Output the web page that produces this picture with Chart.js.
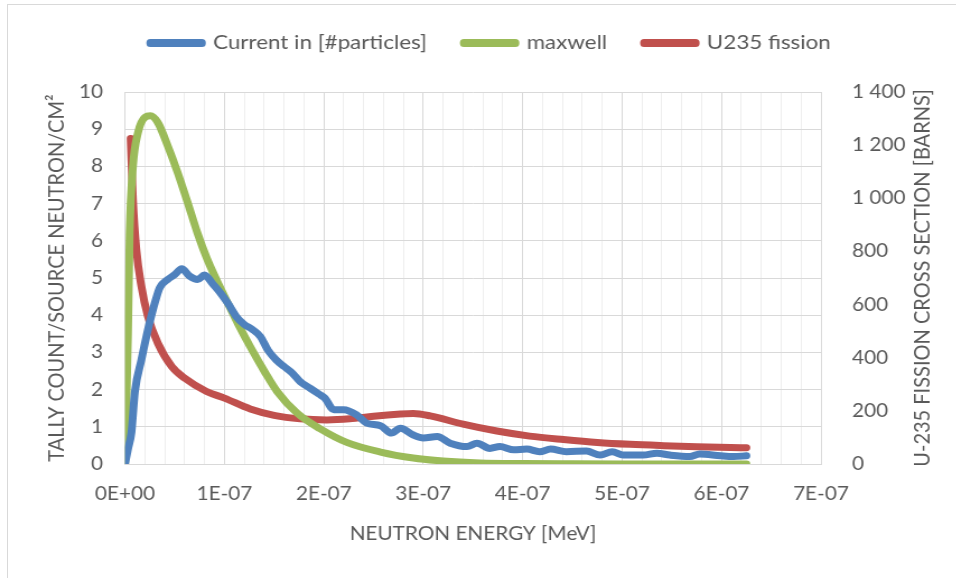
<!DOCTYPE html>
<html>
<head>
<meta charset="utf-8">
<script src="https://cdn.jsdelivr.net/npm/chart.js@4.4.1/dist/chart.umd.min.js"></script>
<style>
  html, body { margin: 0; padding: 0; background: #fff; overflow: hidden; }
  #frame { position: absolute; left: 7px; top: 4px; width: 980px; height: 600px; border: 1px solid #d9d9d9; }
  /* the reference is a bit stretched sideways, so draw narrower and stretch the same way */
  #wrap { position: absolute; left: 0; top: 0; width: 854px; height: 578px; transform: scaleX(1.12); transform-origin: 0 0; }
</style>
</head>
<body>
<div id="frame"></div>
<div id="wrap"><canvas id="chart" width="854" height="578"></canvas></div>
<script>
// energies in MeV
const currentEnergy = [0, 0.3e-8, 0.65e-8, 1.0e-8, 1.65e-8, 2.3e-8, 3.0e-8, 3.5e-8, 4.3e-8, 5.0e-8,
  5.7e-8, 6.5e-8, 7.3e-8, 8.0e-8, 8.8e-8, 9.6e-8, 10.4e-8, 11.2e-8, 12.0e-8, 12.8e-8,
  13.6e-8, 14.4e-8, 15.2e-8, 16.0e-8, 16.8e-8, 17.6e-8, 18.6e-8, 19.5e-8, 20.1e-8, 21.0e-8,
  22.0e-8, 23.3e-8, 24.3e-8, 25.7e-8, 26.8e-8, 27.7e-8, 29.0e-8, 30.0e-8, 31.4e-8, 32.7e-8,
  34.4e-8, 35.4e-8, 36.7e-8, 37.7e-8, 39.1e-8, 40.4e-8, 41.7e-8, 42.8e-8, 44.4e-8, 46.4e-8,
  47.8e-8, 49.0e-8, 50.1e-8, 52.1e-8, 53.5e-8, 54.8e-8, 56.8e-8, 57.8e-8, 59.9e-8, 61.2e-8, 62.5e-8];
const currentValues = [0, 0.4, 0.85, 1.95, 2.8, 3.6, 4.33, 4.74, 4.96, 5.09,
  5.25, 5.05, 4.96, 5.08, 4.85, 4.6, 4.3, 3.96, 3.75, 3.62,
  3.43, 3.05, 2.8, 2.62, 2.45, 2.22, 2.04, 1.88, 1.77, 1.46,
  1.46, 1.32, 1.10, 1.03, 0.83, 0.96, 0.78, 0.70, 0.74, 0.56,
  0.47, 0.56, 0.42, 0.47, 0.38, 0.40, 0.33, 0.40, 0.33, 0.35,
  0.24, 0.33, 0.24, 0.24, 0.29, 0.24, 0.20, 0.27, 0.22, 0.20, 0.22];

const maxwellEnergy = [0, 0.3e-8, 0.47e-8, 0.8e-8, 1.3e-8, 2.0e-8, 2.55e-8, 3.3e-8, 4.3e-8, 5.3e-8,
  6.3e-8, 7.3e-8, 8.2e-8, 9.2e-8, 10.2e-8, 11.4e-8, 12.6e-8, 14.0e-8, 15.3e-8, 17.3e-8,
  19.6e-8, 22.3e-8, 25.7e-8, 29.0e-8, 32.0e-8, 35.7e-8, 40.0e-8, 45.0e-8, 50.0e-8, 55.0e-8, 62.5e-8];
const maxwellValues = [0, 3.5, 6.2, 8.0, 8.9, 9.32, 9.36, 9.18, 8.55, 7.83,
  7.03, 6.2, 5.55, 4.95, 4.4, 3.75, 3.15, 2.5, 1.95, 1.37,
  0.95, 0.58, 0.32, 0.16, 0.08, 0.03, 0.012, 0.005, 0.002, 0.001, 0];

const fissionEnergy = [0.57e-8, 0.8e-8, 1.14e-8, 1.65e-8, 2.3e-8, 3.3e-8, 4.7e-8, 6.0e-8, 8.2e-8, 10.0e-8,
  12.6e-8, 15.0e-8, 17.6e-8, 20.3e-8, 22.6e-8, 25.0e-8, 27.7e-8, 29.0e-8, 30.7e-8, 34.0e-8,
  37.4e-8, 40.7e-8, 44.1e-8, 47.5e-8, 50.8e-8, 54.2e-8, 57.5e-8, 60.9e-8, 62.5e-8];
const fissionBarns = [1225, 996, 808, 669, 556, 455, 367, 323, 273, 248,
  207, 183, 170, 166, 170, 180, 188, 190, 181, 150,
  124, 105, 92, 81, 74, 69, 65, 62, 61];

const seriesNames = ['Current in [#particles]', 'maxwell', 'U235 fission'];
const xTitle = 'NEUTRON ENERGY [MeV]';
const leftTitle = 'TALLY COUNT/SOURCE NEUTRON/CM\u00B2';
const rightTitle = 'U-235 FISSION CROSS SECTION [BARNS]';

const TICK_FONT = { family: 'Lato', size: 18.5 };
const TITLE_FONT = { family: 'Lato', size: 20 };
const TEXT = '#595959';

function points(xs, ys) {
  return xs.map((x, i) => ({ x: x, y: ys[i] }));
}

function line(label, data, color, axis) {
  return {
    label: label,
    data: data,
    yAxisID: axis,
    borderColor: color,
    backgroundColor: color,
    borderWidth: 7,
    borderCapStyle: 'round',
    borderJoinStyle: 'round',
    pointRadius: 0,
    cubicInterpolationMode: 'monotone',
    fill: false
  };
}

// right axis title reads bottom-to-top like the left one
const rightTitlePlugin = {
  id: 'rightTitle',
  afterDraw(chart) {
    const ctx = chart.ctx;
    const area = chart.chartArea;
    ctx.save();
    ctx.translate(chart.scales.y1.right - 30, (area.top + area.bottom) / 2);
    ctx.rotate(-Math.PI / 2);
    ctx.font = TITLE_FONT.size + 'px ' + TITLE_FONT.family;
    ctx.fillStyle = TEXT;
    ctx.textAlign = 'center';
    ctx.textBaseline = 'middle';
    ctx.fillText(rightTitle, 0, 0);
    ctx.restore();
  }
};

const ctx = document.getElementById('chart').getContext('2d');
const chart = new Chart(ctx, {
  type: 'line',
  data: {
    datasets: [
      line(seriesNames[0], points(currentEnergy, currentValues), '#4F81BD', 'y'),
      line(seriesNames[1], points(maxwellEnergy, maxwellValues), '#9BBB59', 'y'),
      line(seriesNames[2], points(fissionEnergy, fissionBarns), '#C0504D', 'y1')
    ]
  },
  options: {
    responsive: false,
    animation: false,
    devicePixelRatio: 1,
    layout: { padding: { top: 0, left: 22, right: 0, bottom: 0 } },
    plugins: {
      tooltip: { enabled: false },
      legend: {
        position: 'top',
        labels: {
          font: TITLE_FONT,
          color: TEXT,
          boxWidth: 46,
          boxHeight: 1,
          padding: 33
        }
      }
    },
    scales: {
      x: {
        type: 'linear',
        min: 0,
        max: 7e-7,
        afterFit: s => { s.height = 114; },
        ticks: {
          stepSize: 2e-8,
          autoSkip: false,
          maxRotation: 0,
          padding: 19,
          font: TICK_FONT,
          color: TEXT,
          callback: (v, i) => i % 5 === 0 ? (i === 0 ? '0E+00' : (i / 5) + 'E-07') : ''
        },
        grid: {
          drawTicks: false,
          color: c => c.index % 5 === 0 ? '#d9d9d9' : '#eeeeee'
        },
        border: { color: '#d9d9d9' },
        title: { display: true, text: xTitle, font: TICK_FONT, color: TEXT, padding: { top: 0, bottom: 33 } }
      },
      xTop: {
        type: 'linear',
        axis: 'x',
        position: 'top',
        display: true,
        afterFit: s => { s.height = 29; },
        ticks: { display: false },
        grid: { display: false },
        border: { display: false }
      },
      y: {
        position: 'left',
        min: 0,
        max: 10,
        afterFit: s => { s.width = 89.6; },
        ticks: { stepSize: 1, padding: 19.6, font: TICK_FONT, color: TEXT },
        grid: { drawTicks: false, color: '#d9d9d9' },
        border: { display: false },
        title: { display: true, text: leftTitle, font: TITLE_FONT, color: TEXT, padding: { top: 17, bottom: 0 } }
      },
      y1: {
        position: 'right',
        min: 0,
        max: 1400,
        afterFit: s => { s.width = 121; },
        ticks: {
          stepSize: 200,
          padding: 19.7,
          font: TICK_FONT,
          color: TEXT,
          callback: v => v >= 1000 ? Math.floor(v / 1000) + ' ' + String(v % 1000).padStart(3, '0') : String(v)
        },
        grid: { display: false },
        border: { display: false }
      }
    }
  },
  plugins: [rightTitlePlugin]
});
</script>
</body>
</html>
